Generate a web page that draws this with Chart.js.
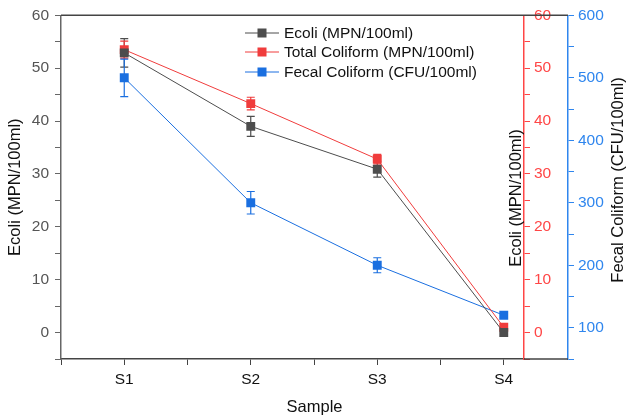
<!DOCTYPE html>
<html>
<head>
<meta charset="utf-8">
<script src="https://cdn.jsdelivr.net/npm/chart.js@4"></script>
<style>
  body { margin: 0; background: #fff; }
  #wrap { width: 627px; height: 417px; }
</style>
</head>
<body>
<div id="wrap"><canvas id="Chart" width="627" height="417"></canvas></div>
<script>
// values
const samples = ["S1", "S2", "S3", "S4"];
const sampleX = [1, 2, 3, 4];
const ecoli = [52.9, 39.0, 30.9, 0];
const ecoliErr = [2.7, 1.9, 1.5, 0];
const totalColiform = [53.5, 43.3, 32.8, 1.0];
const totalErr = [1.6, 1.2, 0.9, 0];
const fecalColiform = [500, 300, 200, 120];
const fecalErr = [30, 18, 12, 4];
const seriesNames = ["Ecoli (MPN/100ml)", "Total Coliform (MPN/100ml)", "Fecal Coliform (CFU/100ml)"];

const FONT = "'Liberation Sans', Arial, sans-serif";
const GREY = "#4d4d4d", RED = "#f03c3c", BLUE = "#1a6fe0";
const RED_AX = "#ff4646", BLUE_AX = "#2f86ee";

const toPts = (vals) => vals.map((v, i) => ({ x: sampleX[i], y: v }));

function ds(label, vals, errs, color, axis) {
  return {
    label: label,
    data: toPts(vals),
    errs: errs,
    yAxisID: axis,
    borderColor: color,
    backgroundColor: color,
    borderWidth: 1,
    pointStyle: "rect",
    pointRadius: 6.3,
    pointBorderWidth: 0,
    tension: 0
  };
}

const errorBars = {
  id: "errorBars",
  beforeDatasetsDraw(chart) {
    const ctx = chart.ctx;
    chart.data.datasets.forEach((d) => {
      const ys = chart.scales[d.yAxisID];
      const xs = chart.scales.x;
      ctx.save();
      ctx.strokeStyle = d.borderColor;
      ctx.lineWidth = 1.2;
      d.data.forEach((p, i) => {
        const e = d.errs[i];
        if (!e) return;
        const x = xs.getPixelForValue(p.x);
        const y1 = ys.getPixelForValue(p.y + e);
        const y2 = ys.getPixelForValue(p.y - e);
        ctx.beginPath();
        ctx.moveTo(x, y1); ctx.lineTo(x, y2);
        ctx.moveTo(x - 4, y1); ctx.lineTo(x + 4, y1);
        ctx.moveTo(x - 4, y2); ctx.lineTo(x + 4, y2);
        ctx.stroke();
      });
      ctx.restore();
    });
  },
  afterDraw(chart) {
    const ctx = chart.ctx;
    const a = chart.chartArea;
    const xEnd = chart.scales.yB.left;
    ctx.save();
    // frame lines running on to the blue axis
    ctx.strokeStyle = "#444";
    ctx.lineWidth = 1.5;
    ctx.beginPath();
    ctx.moveTo(a.left, a.top); ctx.lineTo(xEnd, a.top);
    ctx.moveTo(a.right, a.bottom); ctx.lineTo(xEnd, a.bottom);
    ctx.stroke();

    // legend
    ctx.font = "15.5px " + FONT;
    ctx.textBaseline = "middle";
    const cols = [GREY, RED, BLUE];
    const rows = [33, 52, 72];
    seriesNames.forEach((n, i) => {
      const y = rows[i];
      ctx.strokeStyle = cols[i];
      ctx.lineWidth = 1;
      ctx.beginPath(); ctx.moveTo(245, y); ctx.lineTo(279, y); ctx.stroke();
      ctx.fillStyle = cols[i];
      ctx.fillRect(257.5, y - 4.5, 9, 9);
      ctx.fillStyle = "#111";
      ctx.textAlign = "left";
      ctx.fillText(n, 284, y + 1);
    });

    // axis titles
    ctx.fillStyle = "#111";
    ctx.font = "16.5px " + FONT;
    ctx.textAlign = "center";
    ctx.fillText("Sample", (a.left + xEnd) / 2, 407);
    ctx.save();
    ctx.translate(516, 198);
    ctx.rotate(-Math.PI / 2);
    ctx.fillText("Ecoli (MPN/100ml)", 0, 0);
    ctx.restore();
    ctx.save();
    ctx.translate(618, 180);
    ctx.rotate(-Math.PI / 2);
    ctx.fillText("Fecal Coliform (CFU/100ml)", 0, 0);
    ctx.restore();
    ctx.restore();
  }
};

function tens(step) {
  return (v) => (Math.round(v) % step === 0 ? String(v) : "");
}

new Chart("Chart", {
  type: "line",
  data: {
    datasets: [
      ds(seriesNames[0], ecoli, ecoliErr, GREY, "y"),
      ds(seriesNames[1], totalColiform, totalErr, RED, "yR"),
      ds(seriesNames[2], fecalColiform, fecalErr, BLUE, "yB")
    ]
  },
  plugins: [errorBars],
  options: {
    responsive: false,
    animation: false,
    layout: { padding: { top: 15, left: 0, right: 0, bottom: 0 } },
    plugins: { legend: { display: false }, tooltip: { enabled: false } },
    scales: {
      x: {
        type: "linear",
        min: 0.5,
        max: 4.16,
        afterFit: (s) => { s.height = 58; },
        border: { color: "#444", width: 1.5 },
        grid: { drawOnChartArea: false, tickLength: 6, tickColor: "#444" },
        ticks: {
          stepSize: 0.5,
          includeBounds: false,
          maxRotation: 0,
          autoSkip: false,
          color: "#111",
          padding: 5,
          font: { family: FONT, size: 15.5 },
          callback: (v) => (Number.isInteger(v) ? samples[v - 1] : "")
        }
      },
      y: {
        position: "left",
        min: -5,
        max: 60,
        afterFit: (s) => { s.width = 61; },
        border: { color: "#666", width: 1.5 },
        grid: { drawOnChartArea: false, tickLength: 6, tickColor: "#666" },
        title: {
          display: true,
          text: "Ecoli (MPN/100ml)",
          color: "#111",
          padding: { top: 6, bottom: 0 },
          font: { family: FONT, size: 16.5 }
        },
        ticks: {
          stepSize: 5,
          autoSkip: false,
          color: "#555",
          padding: 6,
          font: { family: FONT, size: 15.5 },
          callback: tens(10)
        }
      },
      yR: {
        position: "right",
        weight: 1,
        min: -5,
        max: 60,
        afterFit: (s) => { s.width = 44; },
        border: { color: RED_AX, width: 1.5 },
        grid: { drawOnChartArea: false, tickLength: 6, tickColor: RED_AX },
        ticks: {
          stepSize: 5,
          autoSkip: false,
          color: RED_AX,
          padding: 4,
          font: { family: FONT, size: 15.5 },
          callback: tens(10)
        }
      },
      yB: {
        position: "right",
        weight: 2,
        min: 50,
        max: 600,
        afterFit: (s) => { s.width = 59; },
        border: { color: BLUE_AX, width: 1.5 },
        grid: { drawOnChartArea: false, tickLength: 6, tickColor: BLUE_AX },
        ticks: {
          stepSize: 50,
          autoSkip: false,
          color: BLUE_AX,
          padding: 4,
          font: { family: FONT, size: 15.5 },
          callback: tens(100)
        }
      }
    }
  }
});
</script>
</body>
</html>
